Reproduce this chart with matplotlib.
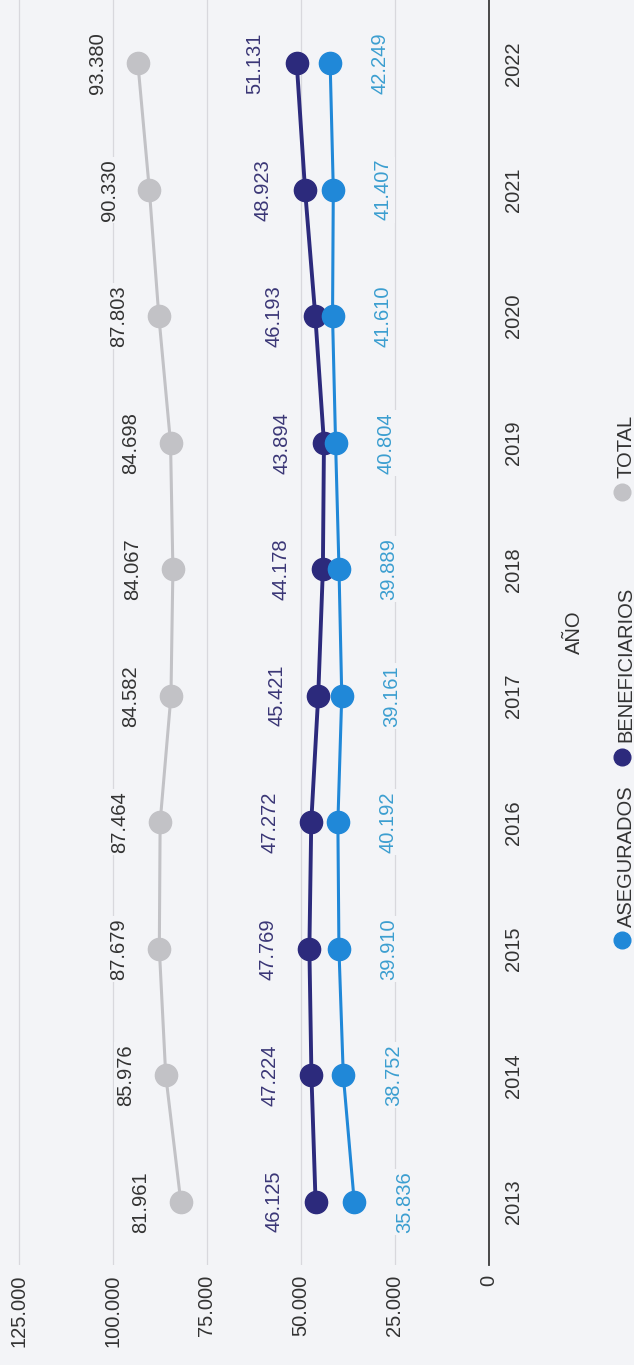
import matplotlib.pyplot as plt
from matplotlib.lines import Line2D

# datos
years = [2013, 2014, 2015, 2016, 2017, 2018, 2019, 2020, 2021, 2022]
total = [81961, 85976, 87679, 87464, 84582, 84067, 84698, 87803, 90330, 93380]
beneficiarios = [46125, 47224, 47769, 47272, 45421, 44178, 43894, 46193, 48923, 51131]
asegurados = [35836, 38752, 39910, 40192, 39161, 39889, 40804, 41610, 41407, 42249]
value_ticks = [0, 25000, 50000, 75000, 100000, 125000]

BG = "#f3f4f7"
C_TOTAL = "#c2c2c6"
C_BEN = "#2c2a7c"
C_ASE = "#2088d8"

plt.rcParams["font.family"] = ["Liberation Sans", "DejaVu Sans"]
plt.rcParams["font.size"] = 14.5

W, H = 634, 1365
fig = plt.figure(figsize=(W / 100, H / 100), dpi=100)
fig.patch.set_facecolor(BG)

# gráfico girado: años en vertical, valores en horizontal (0 a la derecha)
ax = fig.add_axes([0, 100 / H, 489 / W, 1265 / H])
ax.set_facecolor(BG)
ax.set_xlim(130050, 0)
ax.set_ylim(2012.5, 2022.5)

for s in ["top", "left", "bottom"]:
    ax.spines[s].set_visible(False)
ax.spines["right"].set_color("#3a3a3a")
ax.spines["right"].set_linewidth(1.3)

ax.set_xticks(value_ticks)
ax.set_xticklabels([f"{v:,}".replace(",", ".") for v in value_ticks])
ax.tick_params(axis="x", length=0, pad=7, labelrotation=90, colors="#333333")
ax.grid(axis="x", color="#d8d8dd", lw=0.9)
ax.set_axisbelow(True)

ax.yaxis.tick_right()
ax.set_yticks(years)
ax.set_yticklabels([str(y) for y in years])
ax.tick_params(axis="y", length=0, pad=11, labelrotation=90, colors="#333333")
for lbl in ax.get_yticklabels():
    lbl.set_va("center")


def serie(vals, color, lw, lab_color, off):
    ax.plot(vals, years, color=color, lw=lw, marker="o", ms=16,
            mec=color, mfc=color, zorder=3, solid_capstyle="round")
    for v, y in zip(vals, years):
        ax.annotate(f"{v:,}".replace(",", "."), (v, y), xytext=(off, 0),
                    textcoords="offset points", rotation=90,
                    ha="center", va="center", color=lab_color, zorder=4,
                    bbox=dict(boxstyle="square,pad=0.1", fc=BG, ec="none"))


serie(total, C_TOTAL, 2.2, "#333333", -29)
serie(beneficiarios, C_BEN, 2.8, "#3a3676", -30)
serie(asegurados, C_ASE, 2.2, "#3b9ed0", 36)

fig.text(574 / W, 1 - 632 / H, "AÑO", rotation=90, ha="center", va="center",
         color="#333333")

# leyenda (girada, a mano)
leyenda = [("ASEGURADOS", C_ASE, 940, 927),
           ("BENEFICIARIOS", C_BEN, 757, 742),
           ("TOTAL", C_TOTAL, 492, 478)]
for txt, col, ydot, ytxt in leyenda:
    fig.add_artist(Line2D([622 / W], [1 - ydot / H], marker="o", ms=12,
                          color=col, transform=fig.transFigure))
    fig.text(626 / W, 1 - ytxt / H, txt, rotation=90, ha="center",
             va="bottom", color="#333333")

fig.savefig("out.png", dpi=100, facecolor=BG)
